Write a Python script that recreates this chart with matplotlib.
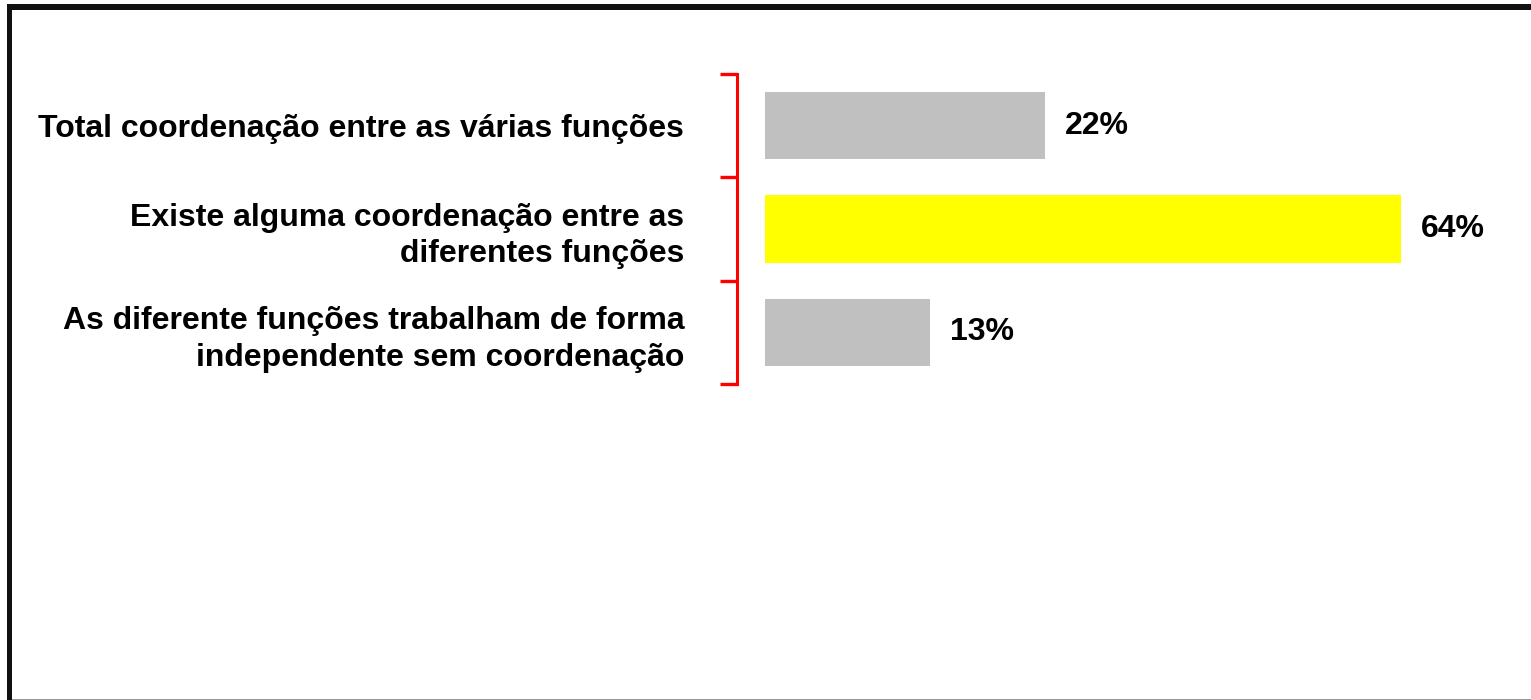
import matplotlib
matplotlib.use("Agg")
import matplotlib.pyplot as plt
from matplotlib.patches import Rectangle

plt.rcParams['font.family'] = ['Liberation Sans', 'DejaVu Sans']

categorias = ["Total coordenação entre as várias funções",
              "Existe alguma coordenação entre as\ndiferentes funções",
              "As diferente funções trabalham de forma\nindependente sem coordenação"]
valores = [22, 64, 13]
cores = ["#C0C0C0", "#FFFF00", "#C0C0C0"]
xmax = 50

W, H = 1531, 700
fig = plt.figure(figsize=(W / 100, H / 100), dpi=100)
ax = fig.add_axes([765 / W, (H - 384) / H, 636 / W, 310 / H])

pos = list(range(len(valores)))
ax.barh(pos, valores, height=0.65, color=cores, edgecolor="none")
ax.set_xlim(0, xmax)
ax.set_ylim(2.5, -0.5)

# valores ao lado das barras (barra cortada no limite do eixo)
for y, v in zip(pos, valores):
    ax.annotate("%d%%" % v, xy=(min(v, xmax), y), xytext=(20, 0),
                textcoords="offset pixels", ha="left", va="center",
                fontsize=23, fontweight="bold")

for s in ["top", "right", "bottom"]:
    ax.spines[s].set_visible(False)
ax.spines["left"].set_color("#FF0000")
ax.spines["left"].set_linewidth(2.2)
ax.spines["left"].set_position(("outward", 20.2))
ax.set_xticks([])

ax.set_yticks([-0.5, 0.5, 1.5, 2.5])
ax.set_yticklabels([])
ax.tick_params(axis="y", which="major", direction="out", length=12.2,
               width=2.4, color="#FF0000")
ax.set_yticks(pos, minor=True)
ax.set_yticklabels(categorias, minor=True, fontsize=23, fontweight="bold",
                   linespacing=1.3)
ax.tick_params(axis="y", which="minor", length=0, pad=38)

# moldura
fig.add_artist(Rectangle((7 / W, 0), 5 / W, 696 / H, transform=fig.transFigure,
                         color="#111111", lw=0))
fig.add_artist(Rectangle((7 / W, 690 / H), (W - 7) / W, 6 / H,
                         transform=fig.transFigure, color="#111111", lw=0))
fig.add_artist(Rectangle((12 / W, 0), (W - 12) / W, 1.2 / H,
                         transform=fig.transFigure, color="#999999", lw=0))

fig.savefig("out.png", dpi=100)
